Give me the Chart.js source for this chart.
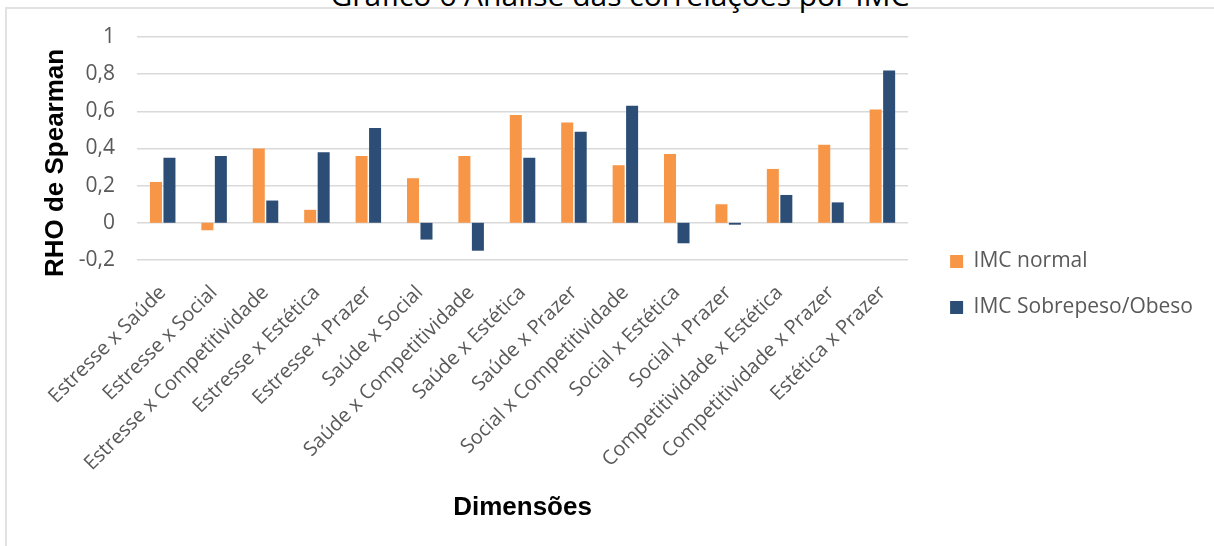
<!DOCTYPE html>
<html lang="pt-BR">
<head>
<meta charset="utf-8">
<title>Análise das correlações por IMC</title>
<script src="https://cdn.jsdelivr.net/npm/chart.js@4.4.1/dist/chart.umd.min.js"></script>
<style>
  html, body { margin: 0; padding: 0; background: #fff; overflow: hidden; }
  body { width: 1214px; height: 546px; position: relative; }
  #frame { position: absolute; left: 5px; top: 7px; width: 2000px; height: 1000px; border: 2px solid #e2e2e2; }
  #caption {
    position: absolute; left: 0; top: -20px; width: 1240px; text-align: center;
    font: 30px/30px "Open Sans", sans-serif; color: #000; white-space: nowrap;
  }
  #chart { position: absolute; left: 0; top: 0; }
</style>
</head>
<body>
<div id="frame"></div>
<div id="caption">Gráfico 6 Análise das correlações por IMC</div>
<canvas id="chart" width="1214" height="546"></canvas>
<script>
// dimensões comparadas
const dimensoes = [
  'Estresse x Saúde', 'Estresse x Social', 'Estresse x Competitividade', 'Estresse x Estética',
  'Estresse x Prazer', 'Saúde x Social', 'Saúde x Competitividade', 'Saúde x Estética',
  'Saúde x Prazer', 'Social x Competitividade', 'Social x Estética', 'Social x Prazer',
  'Competitividade x Estética', 'Competitividade x Prazer', 'Estética x Prazer'
];

// rho de Spearman por grupo
const imcNormal = [0.22, -0.04, 0.40, 0.07, 0.36, 0.24, 0.36, 0.58, 0.54, 0.31, 0.37, 0.10, 0.29, 0.42, 0.61];
const imcSobrepeso = [0.35, 0.36, 0.12, 0.38, 0.51, -0.09, -0.15, 0.35, 0.49, 0.63, -0.11, -0.01, 0.15, 0.11, 0.82];

const yMin = -0.2;
const yMax = 1;
const yStep = 0.2;

const gray = '#595959';

// 0.2 -> "0,2"
function virgula(v) {
  const r = Math.round(v * 10) / 10;
  if (Number.isInteger(r)) return String(r);
  return r.toFixed(1).replace('.', ',');
}

new Chart(document.getElementById('chart'), {
  type: 'bar',
  data: {
    labels: dimensoes,
    datasets: [
      {
        label: 'IMC normal',
        data: imcNormal,
        backgroundColor: '#F79646',
        categoryPercentage: 0.525,
        barPercentage: 0.89,
      },
      {
        label: 'IMC Sobrepeso/Obeso',
        data: imcSobrepeso,
        backgroundColor: '#2C4D75',
        categoryPercentage: 0.525,
        barPercentage: 0.89,
      }
    ]
  },
  options: {
    responsive: false,
    animation: false,
    layout: {
      padding: { top: 37, left: 0, bottom: 14, right: 11 }
    },
    scales: {
      x: {
        grid: { display: false },
        border: { display: false },
        ticks: {
          color: gray,
          font: { family: 'Open Sans', size: 20 },
          minRotation: 45,
          maxRotation: 45,
          padding: 13,
          autoSkip: false,
        },
        title: {
          display: true,
          text: 'Dimensões',
          color: '#000',
          font: { family: 'Liberation Sans', size: 26, weight: 'bold' },
          padding: { top: 0, bottom: 9 },
        },
        afterFit: s => { s.height = 272; },
      },
      y: {
        min: yMin,
        max: yMax,
        grid: { color: '#d9d9d9', lineWidth: 1.5, drawTicks: false },
        border: { display: false },
        ticks: {
          stepSize: yStep,
          color: gray,
          font: { family: 'Open Sans', size: 21 },
          padding: 22,
          callback: v => virgula(v),
        },
        title: {
          display: true,
          text: 'RHO de Spearman    ',
          color: '#000',
          font: { family: 'Liberation Sans', size: 26, weight: 'bold' },
          padding: { top: 40, bottom: 0 },
        },
        afterFit: s => { s.width = 137; },
      },
      // só um espaço entre a área do gráfico e a legenda
      gap: {
        position: 'right',
        display: true,
        grid: { display: false },
        border: { display: false },
        ticks: { display: false },
        afterFit: s => { s.width = 17; },
      }
    },
    plugins: {
      legend: {
        position: 'right',
        align: 'center',
        maxWidth: 400,
        labels: {
          boxWidth: 13,
          boxHeight: 13,
          padding: 25,
          color: gray,
          font: { family: 'Open Sans', size: 21 },
        },
      },
      tooltip: { enabled: false },
    },
  },
});
</script>
</body>
</html>
